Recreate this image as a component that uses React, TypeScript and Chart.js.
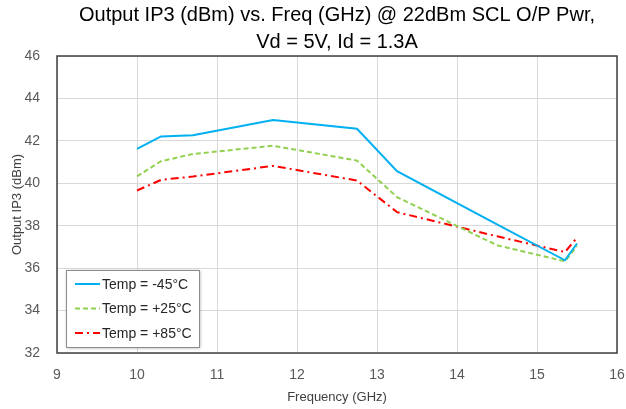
import React, { useEffect, useRef } from "react";
import { Chart, registerables } from "chart.js";

Chart.register(...registerables);

const freqs = [10, 10.3, 10.7, 11.7, 12.75, 13.25, 14.5, 15.35, 15.5];
const tempM45 = [41.62, 42.21, 42.27, 42.98, 42.57, 40.57, 38.06, 36.37, 37.16];
const tempP25 = [40.33, 41.04, 41.38, 41.77, 41.07, 39.35, 37.08, 36.32, 37.04];
const tempP85 = [39.66, 40.16, 40.32, 40.82, 40.13, 38.64, 37.5, 36.76, 37.44];
const seriesLabels = ["Temp = -45°C", "Temp = +25°C", "Temp = +85°C"];
const titleLines = ["Output IP3 (dBm) vs. Freq (GHz) @ 22dBm SCL O/P Pwr,", "Vd = 5V, Id = 1.3A"];

const FONT = "'Liberation Sans', Arial, sans-serif";

const frameAndLegend = {
  id: "frameAndLegend",
  afterDraw(chart: any) {
    const { ctx, chartArea } = chart;
    ctx.save();
    ctx.strokeStyle = "#404040";
    ctx.lineWidth = 1.5;
    ctx.strokeRect(chartArea.left, chartArea.top, chartArea.right - chartArea.left, chartArea.bottom - chartArea.top);

    // legend box
    const bx = chartArea.left + 9;
    const bw = 133;
    const bh = 77;
    const by = chartArea.bottom - 6 - bh;
    ctx.shadowColor = "rgba(0,0,0,0.35)";
    ctx.shadowBlur = 3;
    ctx.shadowOffsetX = 1;
    ctx.shadowOffsetY = 1;
    ctx.fillStyle = "#ffffff";
    ctx.fillRect(bx, by, bw, bh);
    ctx.shadowColor = "transparent";
    ctx.strokeStyle = "#8c8c8c";
    ctx.lineWidth = 1;
    ctx.strokeRect(bx + 0.5, by + 0.5, bw, bh);
    ctx.font = "14px " + FONT;
    ctx.textBaseline = "middle";
    ctx.fillStyle = "#262626";
    chart.data.datasets.forEach((ds: any, i: number) => {
      const y = by + 14 + i * 24.5;
      ctx.beginPath();
      ctx.strokeStyle = ds.borderColor;
      ctx.lineWidth = 2;
      ctx.setLineDash(ds.borderDash || []);
      ctx.moveTo(bx + 9, y);
      ctx.lineTo(bx + 34, y);
      ctx.stroke();
      ctx.setLineDash([]);
      ctx.fillText(ds.label, bx + 36, y + 1);
    });
    ctx.restore();
  },
};

export default function App() {
  const ref = useRef<HTMLCanvasElement>(null);
  useEffect(() => {
    document.body.style.margin = "0";
    const mk = (label: string, vals: number[], color: string, dash: number[]) => ({
      label,
      data: freqs.map((f, i) => ({ x: f, y: vals[i] })),
      borderColor: color,
      backgroundColor: color,
      borderWidth: 2,
      borderDash: dash,
      pointRadius: 0,
      tension: 0,
      fill: false,
    });
    const chart = new Chart(ref.current!, {
      type: "line",
      data: {
        datasets: [
          mk(seriesLabels[0], tempM45, "#00b0f0", []),
          mk(seriesLabels[1], tempP25, "#92d050", [5, 3]),
          mk(seriesLabels[2], tempP85, "#ff0000", [8, 4, 2, 4]),
        ],
      },
      options: {
        animation: false,
        responsive: false,
        layout: { padding: { left: 0, right: 0, top: 0, bottom: 0 } },
        plugins: {
          legend: { display: false },
          tooltip: { enabled: false },
          title: {
            display: true,
            fullSize: false,
            text: titleLines,
            color: "#000000",
            font: { family: FONT, size: 20, weight: "normal", lineHeight: 1.35 },
            padding: { top: 2, bottom: 0 },
          },
        },
        scales: {
          x: {
            type: "linear",
            min: 9,
            max: 16,
            ticks: { stepSize: 1, color: "#595959", font: { family: FONT, size: 14 }, padding: 14 },
            grid: { color: "#d9d9d9", drawTicks: false },
            border: { display: false },
            title: { display: true, text: "Frequency (GHz)", color: "#404040", font: { family: FONT, size: 13 }, padding: { top: 2, bottom: 4 } },
            afterFit: (s: any) => { s.height = 56; s.paddingRight = 9; },
          },
          y: {
            min: 32,
            max: 46,
            ticks: { stepSize: 2, color: "#595959", font: { family: FONT, size: 14 }, padding: 17 },
            grid: { color: "#d9d9d9", drawTicks: false },
            border: { display: false },
            title: { display: true, text: "Output IP3 (dBm)", color: "#404040", font: { family: FONT, size: 13 }, padding: { top: 10, bottom: 0 } },
            afterFit: (s: any) => { s.width = 57; },
          },
        },
      },
      plugins: [frameAndLegend],
    });
    return () => chart.destroy();
  }, []);
  return (
    <div style={{ width: 626, height: 409, background: "#fff" }}>
      <canvas ref={ref} width={626} height={409} />
    </div>
  );
}
